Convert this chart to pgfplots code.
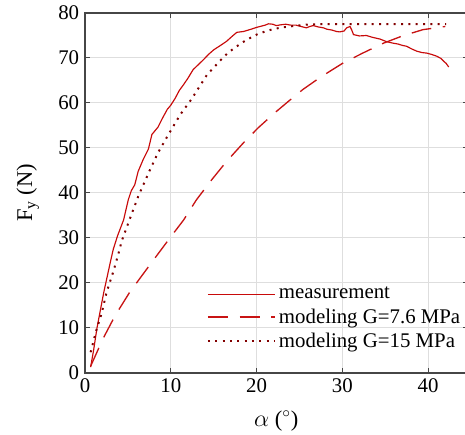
\documentclass[border=0pt]{standalone}
\usepackage{fontspec}
\setmainfont{Liberation Serif}
\usepackage{pgfplots}
\pgfplotsset{compat=1.18}
\definecolor{meas}{RGB}{200,10,10}
\definecolor{dashc}{RGB}{200,20,20}
\definecolor{dotc}{RGB}{130,0,0}
\definecolor{gridc}{RGB}{222,222,222}
\definecolor{axc}{RGB}{70,70,70}
\begin{document}
\begin{tikzpicture}
\begin{axis}[
  scale only axis,
  width=229.6pt, height=216pt,
  xmin=0, xmax=44.6, ymin=0, ymax=80,
  xtick={0,10,20,30,40}, ytick={0,10,20,30,40,50,60,70,80},
  /pgf/number format/assume math mode=true,
  grid=major,
  major grid style={gridc, line width=0.6pt},
  axis line style={axc, line width=0.8pt},
  tick style={axc, line width=0.6pt},
  tick align=inside, major tick length=3pt,
  tick label style={font=\fontsize{12.5}{14}\selectfont, black},
  label style={font=\fontsize{13.5}{15}\selectfont},
  xlabel={$\alpha$ ($^\circ$)},
  ylabel={F$_\mathrm{y}$ (N)},
  xlabel style={at={(axis description cs:0.5,0)}, anchor=north, yshift=-19pt},
  ylabel style={at={(axis description cs:0,0.5)}, anchor=south, yshift=24pt},
  legend style={at={(axis cs:13.6,20.6)}, anchor=north west, draw=none, fill=none,
    font=\fontsize{12.5}{14}\selectfont, row sep=0.3pt},
  legend cell align=left,
  legend image code/.code={\draw[#1] (0pt,0pt) -- (40pt,0pt);},
]
\addplot[meas, line width=0.7pt] coordinates {
(0.66,1.3)(1.0,5)(1.4,10)(1.8,14)(2.2,18)(2.6,21.5)(3.0,25)(3.3,27.5)(3.8,30.5)(4.5,34)(5.05,38.5)(5.4,40.5)(5.8,41.8)(6.2,44.8)(6.8,47.5)(7.4,49.8)(7.8,53)(8.5,54.6)(9.0,56.5)(9.6,58.6)(10.0,59.5)(10.5,61)(11.0,62.8)(11.5,64.1)(12.0,65.5)(12.6,67.4)(13.2,68.5)(13.8,69.6)(14.4,70.8)(15.0,71.8)(15.8,72.8)(16.5,73.7)(17.2,74.9)(17.7,75.7)(18.5,75.9)(19.2,76.3)(20.0,76.8)(20.4,77.0)(21.0,77.3)(21.4,77.6)(21.9,77.5)(22.3,77.2)(22.9,77.4)(23.4,77.5)(24.0,77.3)(24.6,77.3)(25.2,77.0)(25.8,76.7)(26.2,77.0)(26.6,77.2)(27.2,76.9)(27.8,76.7)(28.2,76.4)(28.8,76.2)(29.3,75.9)(29.7,75.8)(30.2,76.0)(30.5,76.7)(30.9,77.0)(31.1,76.2)(31.3,75.2)(32.0,74.9)(32.8,75.0)(33.5,74.6)(34.4,74.2)(35.2,73.6)(35.9,73.3)(36.5,73.1)(37.0,72.8)(37.5,72.6)(38.1,72.0)(38.7,71.5)(39.3,71.2)(39.8,71.1)(40.4,70.8)(41.0,70.4)(41.5,69.9)(41.8,69.3)(42.1,68.8)(42.4,68.0)
};
\addlegendentry{measurement}
\addplot[dashc, line width=0.8pt, dash pattern=on 12pt off 7pt] coordinates {
(0.66,1.5)(2.1,7.6)(3.5,12.7)(5.2,17.9)(7.4,23.6)(9.9,30.0)(11.5,34.0)(13.0,38.5)(14.8,43.0)(16.5,47.0)(18.5,51.2)(20.2,54.5)(22.3,58.1)(23.8,60.5)(25.4,63.0)(27.5,65.8)(30.1,68.9)(32.5,71.2)(34.8,73.3)(37.0,74.9)(39.4,76.3)(42.0,77.0)
};
\addlegendentry{modeling G=7.6 MPa}
\addplot[dotc, line width=1.2pt, dash pattern=on 1.2pt off 3.2pt] coordinates {
(0.66,4.6)(1.28,9.2)(1.95,13.3)(2.5,17.8)(3.3,22.5)(3.9,26.5)(4.28,29.3)(5.2,34.1)(6.2,39.2)(7.4,44.4)(8.5,48.9)(9.7,52.9)(11.1,57.4)(12.4,60.8)(13.3,63.5)(14.2,66.2)(15.7,69.3)(16.7,71.2)(17.7,72.6)(18.8,74.0)(20.0,75.2)(21.0,75.9)(21.9,76.4)(23.0,76.8)(24.3,77.1)(25.7,77.4)(27,77.5)(42.1,77.5)
};
\addlegendentry{modeling G=15 MPa}
\coordinate (br) at (axis cs:44.3,0);
\end{axis}
\pgfresetboundingbox
\path[use as bounding box] ([xshift=-51pt,yshift=-37.2pt]current axis.south west) rectangle ([yshift=7.8pt]br |- current axis.north);
\end{tikzpicture}
\end{document}
